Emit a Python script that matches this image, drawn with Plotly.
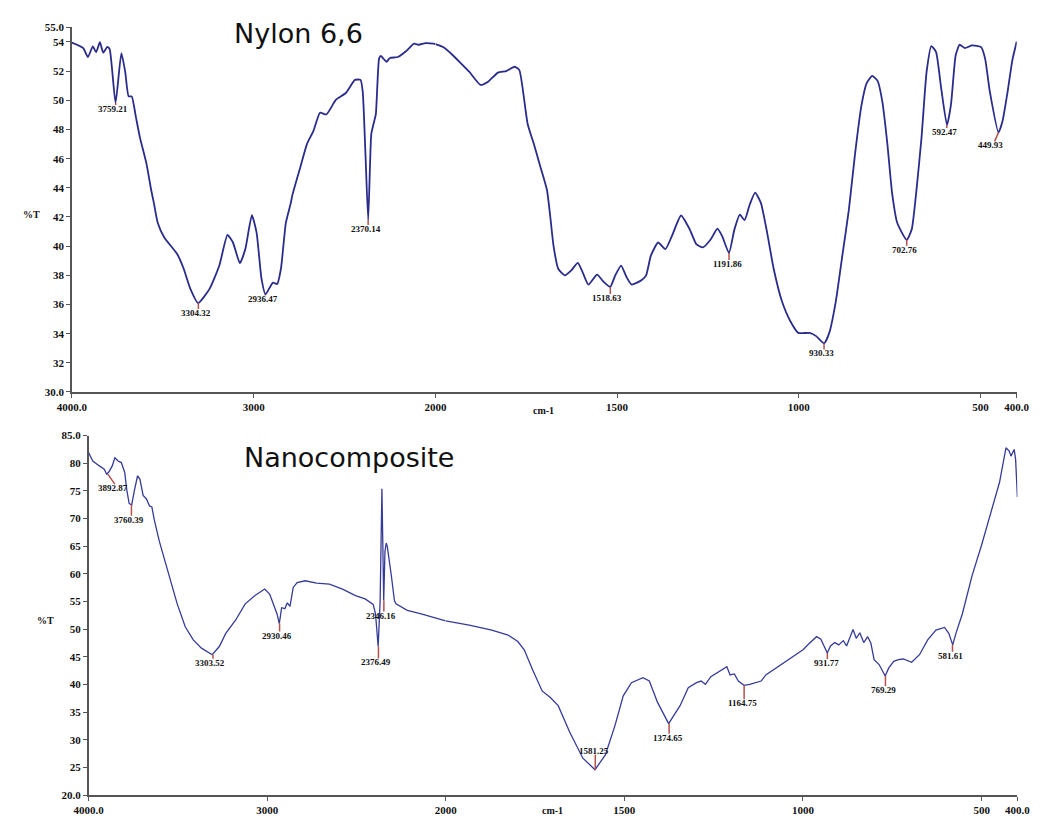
import plotly.graph_objects as go

# ---------------- data ----------------
nylon_wn = [4000, 3938, 3912, 3885, 3867, 3846, 3828, 3805, 3792, 3760, 3728, 3707, 3688, 3671, 3649, 3626,
            3590, 3564, 3549, 3528, 3492, 3421, 3385, 3349, 3305, 3242, 3189, 3144, 3114, 3076, 3046, 3010,
            2984, 2957, 2935, 2894, 2871, 2850, 2823, 2796, 2787, 2743, 2707, 2671, 2635, 2600, 2547, 2493,
            2443, 2412, 2400, 2385, 2370, 2353, 2341, 2328, 2310, 2300, 2269, 2251, 2207, 2162, 2118, 2091,
            2055, 2010, 2000, 1979, 1952, 1925, 1907, 1876, 1855, 1828, 1805, 1782, 1769, 1760, 1746, 1729,
            1711, 1693, 1684, 1675, 1662, 1644, 1626, 1608, 1595, 1579, 1555, 1537, 1519, 1505, 1489, 1474,
            1460, 1433, 1420, 1407, 1387, 1367, 1349, 1324, 1300, 1282, 1264, 1242, 1224, 1211, 1192, 1177,
            1162, 1149, 1135, 1120, 1104, 1087, 1069, 1046, 1023, 1001, 970, 952, 930, 916, 898, 880,
            862, 845, 827, 813, 798, 783, 770, 756, 743, 729, 703, 689, 675, 662, 648, 635,
            622, 608, 592, 581, 568, 557, 543, 523, 498, 487, 474, 450, 439, 425, 412, 400]
nylon_T = [53.95, 53.58, 52.97, 53.70, 53.30, 53.99, 53.27, 53.67, 53.50, 49.82, 53.24, 51.96, 50.27, 50.27, 48.92, 47.46,
           45.66, 43.85, 42.95, 41.60, 40.59, 39.46, 38.45, 37.09, 36.10, 37.09, 38.67, 40.77, 40.25, 38.83, 39.80, 42.12,
           40.93, 37.77, 36.69, 37.50, 37.40, 38.45, 41.60, 42.95, 43.50, 45.43, 47.00, 47.90, 49.15, 49.03, 50.05, 50.50,
           51.40, 51.40, 50.60, 46.33, 41.80, 47.68, 48.36, 49.03, 52.86, 53.04, 52.64, 52.90, 52.97, 53.36, 53.88, 53.81,
           53.92, 53.88, 53.85, 53.65, 53.09, 52.41, 51.96, 51.06, 51.28, 51.90, 52.00, 52.30, 52.07, 50.84, 48.36, 47.00,
           45.43, 43.85, 42.05, 40.03, 38.45, 38.00, 38.34, 38.85, 38.22, 37.36, 38.04, 37.55, 37.20, 38.00, 38.67, 37.88,
           37.36, 37.66, 38.00, 39.35, 40.25, 39.80, 40.70, 42.10, 41.15, 40.14, 39.91, 40.47, 41.20, 40.70, 39.53, 41.15,
           42.16, 41.78, 42.84, 43.67, 42.95, 40.93, 38.45, 36.20, 34.85, 34.05, 34.05, 33.83, 33.33, 34.05, 36.20, 39.35,
           42.50, 46.33, 49.70, 51.18, 51.67, 51.33, 49.93, 47.00, 43.63, 41.60, 40.43, 41.15, 44.08, 47.46, 51.96, 53.72,
           53.31, 50.84, 48.31, 49.70, 53.09, 53.81, 53.58, 53.76, 53.65, 52.86, 50.60, 47.80, 48.58, 50.60, 52.75, 54.03]

nano_wn = [4000, 3977, 3940, 3913, 3899, 3886, 3868, 3853, 3835, 3817, 3798, 3786, 3773, 3759, 3744, 3726,
           3713, 3695, 3677, 3659, 3646, 3632, 3604, 3577, 3541, 3504, 3459, 3414, 3368, 3308, 3268, 3232,
           3177, 3123, 3068, 3014, 2986, 2959, 2945, 2932, 2919, 2901, 2887, 2872, 2854, 2832, 2787, 2723,
           2651, 2578, 2505, 2451, 2424, 2406, 2393, 2378, 2367, 2357, 2347, 2340, 2333, 2327, 2305, 2287,
           2278, 2215, 2142, 2069, 2000, 1934, 1871, 1825, 1798, 1780, 1757, 1730, 1707, 1685, 1653, 1616,
           1582, 1553, 1526, 1503, 1480, 1448, 1430, 1407, 1376, 1344, 1321, 1298, 1285, 1273, 1258, 1235,
           1213, 1204, 1192, 1181, 1165, 1149, 1117, 1104, 1063, 1027, 1000, 982, 962, 950, 941, 932,
           923, 911, 900, 887, 878, 869, 860, 851, 841, 830, 819, 810, 801, 787, 775, 770,
           760, 746, 733, 719, 696, 674, 651, 628, 604, 592, 581, 572, 554, 527, 500, 473,
           450, 432, 423, 418, 414, 409, 405, 400]
nano_T = [81.92, 80.42, 79.53, 78.94, 78.05, 78.46, 79.53, 81.00, 80.42, 80.13, 78.35, 75.08, 72.71, 72.50, 75.08, 77.75,
          77.16, 74.19, 73.60, 72.30, 72.12, 69.74, 65.89, 62.92, 58.77, 54.60, 50.45, 48.08, 46.60, 45.41, 46.89, 49.26,
          51.64, 54.60, 56.10, 57.27, 56.38, 54.00, 52.82, 51.04, 53.90, 53.72, 54.78, 54.13, 57.57, 58.46, 58.77, 58.34,
          58.16, 57.27, 56.10, 55.50, 54.90, 54.50, 52.80, 46.90, 55.20, 75.40, 55.20, 64.10, 65.60, 65.00, 59.90, 55.20,
          54.60, 53.42, 52.82, 52.20, 51.52, 50.75, 49.86, 48.97, 47.78, 46.30, 42.74, 38.87, 37.68, 36.20, 31.45, 26.71,
          24.63, 27.30, 32.64, 37.98, 40.35, 41.24, 40.65, 36.79, 32.95, 36.20, 39.46, 40.35, 40.65, 40.06, 41.45, 42.34,
          43.23, 41.75, 41.93, 40.65, 39.88, 40.06, 40.65, 41.75, 43.52, 45.00, 46.30, 47.47, 48.67, 48.19, 46.89, 45.70,
          47.00, 47.60, 47.18, 47.95, 47.00, 48.67, 49.97, 48.37, 49.38, 47.60, 48.67, 47.47, 44.52, 43.63, 42.13, 41.55,
          43.02, 44.22, 44.52, 44.63, 44.04, 45.41, 48.08, 49.86, 50.33, 49.26, 47.19, 49.26, 52.82, 59.66, 65.29, 71.23,
          76.57, 82.80, 82.20, 81.30, 81.90, 82.50, 80.70, 73.90]

nylon_peak_labels = ["3759.21", "3304.32", "2936.47", "2370.14", "1518.63", "1191.86", "930.33", "702.76", "592.47", "449.93"]
nylon_peak_T = [49.82, 36.10, 36.69, 41.80, 37.20, 39.53, 33.33, 40.43, 48.31, 47.80]

nano_peak_labels = ["3892.87", "3760.39", "3303.52", "2930.46", "2376.49", "2346.16", "1581.25", "1374.65",
                    "1164.75", "931.77", "769.29", "581.61"]
nano_peak_T = [78.05, 72.50, 45.41, 51.04, 46.90, 55.20, 24.63, 32.95, 39.88, 45.70, 41.55, 47.19]

nylon_yticks = [30, 32, 34, 36, 38, 40, 42, 44, 46, 48, 50, 52, 54, 55]
nylon_yticktext = ["30.0", "32", "34", "36", "38", "40", "42", "44", "46", "48", "50", "52", "54", "55.0"]
nano_yticks = [20, 25, 30, 35, 40, 45, 50, 55, 60, 65, 70, 75, 80, 85]
nano_yticktext = ["20.0", "25", "30", "35", "40", "45", "50", "55", "60", "65", "70", "75", "80", "85.0"]
x_hi_ticks = [4000, 3000]
x_hi_text = ["4000.0", "3000"]
x_lo_ticks = [2000, 1500, 1000, 500, 400]
x_lo_text = ["2000", "1500", "1000", "500", "400.0"]

# ---------------- styling / geometry ----------------
W, H = 1045, 822
def fx(px): return px / W
def fy(py): return 1 - py / H

LINE1 = "#2a2c8c"
LINE2 = "#363b98"
RED = "#b4504c"
AXC = "#555555"
TICKFONT = dict(family="Liberation Serif", size=11, color="#111", weight="bold")
LBLFONT = dict(family="Liberation Serif", size=9, color="#111", weight="bold")

# pixel offsets for tick marks and labels (tick dx, tick dy, label dx)
nylon_peak_style = [(0, -2, -3), (0, -6, -2), (0, -1, -2), (0, -5, -2), (0, -7, -3),
                    (0, -7, -2), (0, -6, -3), (0, -6, -2), (0, -3, -2), (-4, -9, -8)]
nano_peak_style = [(7, -10, 5), (0, -11, -2), (0, -4, -3), (0, -8, -2.5), (0, -12, -2), (0, -11, -2.5),
                   (0, 15, -1), (0, -10, -1.5), (0, -14, -1.5), (0, -6, -1), (0, -10, -1.7), (0, -7, -2)]

fig = go.Figure()

def split(wn, T):
    hi = [(w, t) for w, t in zip(wn, T) if w >= 2000]
    lo = [(w, t) for w, t in zip(wn, T) if w <= 2000]
    return [p[0] for p in hi], [p[1] for p in hi], [p[0] for p in lo], [p[1] for p in lo]

a, b, c, d = split(nylon_wn, nylon_T)
fig.add_trace(go.Scatter(x=a, y=b, xaxis="x", yaxis="y", mode="lines",
                         line=dict(color=LINE1, width=1.8, shape="spline", smoothing=0.5)))
fig.add_trace(go.Scatter(x=c, y=d, xaxis="x2", yaxis="y", mode="lines",
                         line=dict(color=LINE1, width=1.8, shape="spline", smoothing=0.5)))
a, b, c, d = split(nano_wn, nano_T)
fig.add_trace(go.Scatter(x=a, y=b, xaxis="x3", yaxis="y2", mode="lines",
                         line=dict(color=LINE2, width=1.3)))
fig.add_trace(go.Scatter(x=c, y=d, xaxis="x4", yaxis="y2", mode="lines",
                         line=dict(color=LINE2, width=1.3)))

shapes, annotations = [], []

def add_peaks(labels, Ts, styles, xhi, xlo, yref):
    for lab, t, (dx, dy, ldx) in zip(labels, Ts, styles):
        w = float(lab)
        xr = xhi if w >= 2000 else xlo
        shapes.append(dict(type="line", xref=xr, yref=yref,
                           xsizemode="pixel", xanchor=w, x0=0, x1=dx,
                           ysizemode="pixel", yanchor=t, y0=0, y1=dy,
                           line=dict(color=RED, width=1.5)))
        if dy <= 0:
            annotations.append(dict(x=w, y=t, xref=xr, yref=yref, text=lab, showarrow=False,
                                    xanchor="center", yanchor="top", yshift=dy + 3, xshift=ldx,
                                    font=LBLFONT))
        else:
            annotations.append(dict(x=w, y=t, xref=xr, yref=yref, text=lab, showarrow=False,
                                    xanchor="center", yanchor="bottom", yshift=dy - 3, xshift=ldx,
                                    font=LBLFONT))

add_peaks(nylon_peak_labels, nylon_peak_T, nylon_peak_style, "x", "x2", "y")
add_peaks(nano_peak_labels, nano_peak_T, nano_peak_style, "x3", "x4", "y2")

def paper_text(px, py, text, font, xanchor="center"):
    annotations.append(dict(x=fx(px), y=fy(py), xref="paper", yref="paper", text=text, showarrow=False,
                            xanchor=xanchor, yanchor="middle", font=font))

TITLEFONT = dict(family="DejaVu Sans", size=27, color="#111")
AXTFONT = dict(family="Liberation Serif", size=10, color="#111", weight="bold")
paper_text(291, 28, "Nylon 6,6", TITLEFONT)
paper_text(343, 458, "Nanocomposite", TITLEFONT)
paper_text(17, 212, "%T", AXTFONT)
paper_text(31, 624, "%T", AXTFONT)
paper_text(543, 410, "cm-1", AXTFONT)
paper_text(552, 816, "cm-1", AXTFONT)

def axis(domain, rng, tv, tt, anchor):
    return dict(domain=domain, range=rng, anchor=anchor, tickvals=tv, ticktext=tt,
                showline=True, linecolor=AXC, linewidth=1.5, ticks="outside", ticklen=4,
                tickwidth=1.2, tickcolor=AXC, showgrid=False, zeroline=False, tickfont=TICKFONT,
                fixedrange=True)

top_split = 432.0
bot_split = 442.5
fig.update_layout(
    width=W, height=H, margin=dict(l=0, r=0, t=0, b=0),
    paper_bgcolor="white", plot_bgcolor="white", showlegend=False,
    xaxis=axis([fx(58.5), fx(top_split)], [4000, 2000], x_hi_ticks, x_hi_text, "y"),
    xaxis2=axis([fx(top_split), fx(1029.3)], [2000, 400], x_lo_ticks, x_lo_text, "y"),
    xaxis3=axis([fx(75.7), fx(bot_split)], [4000, 2000], x_hi_ticks, x_hi_text, "y2"),
    xaxis4=axis([fx(bot_split), fx(1030)], [2000, 400], x_lo_ticks, x_lo_text, "y2"),
    yaxis=axis([fy(391.7), fy(21.7)], [30, 55], nylon_yticks, nylon_yticktext, "x"),
    yaxis2=axis([fy(801), fy(436)], [20, 85], nano_yticks, nano_yticktext, "x3"),
    shapes=shapes, annotations=annotations,
)

fig.write_html("out.html", config={"displayModeBar": False},
               post_script="document.body.style.margin='0';")
